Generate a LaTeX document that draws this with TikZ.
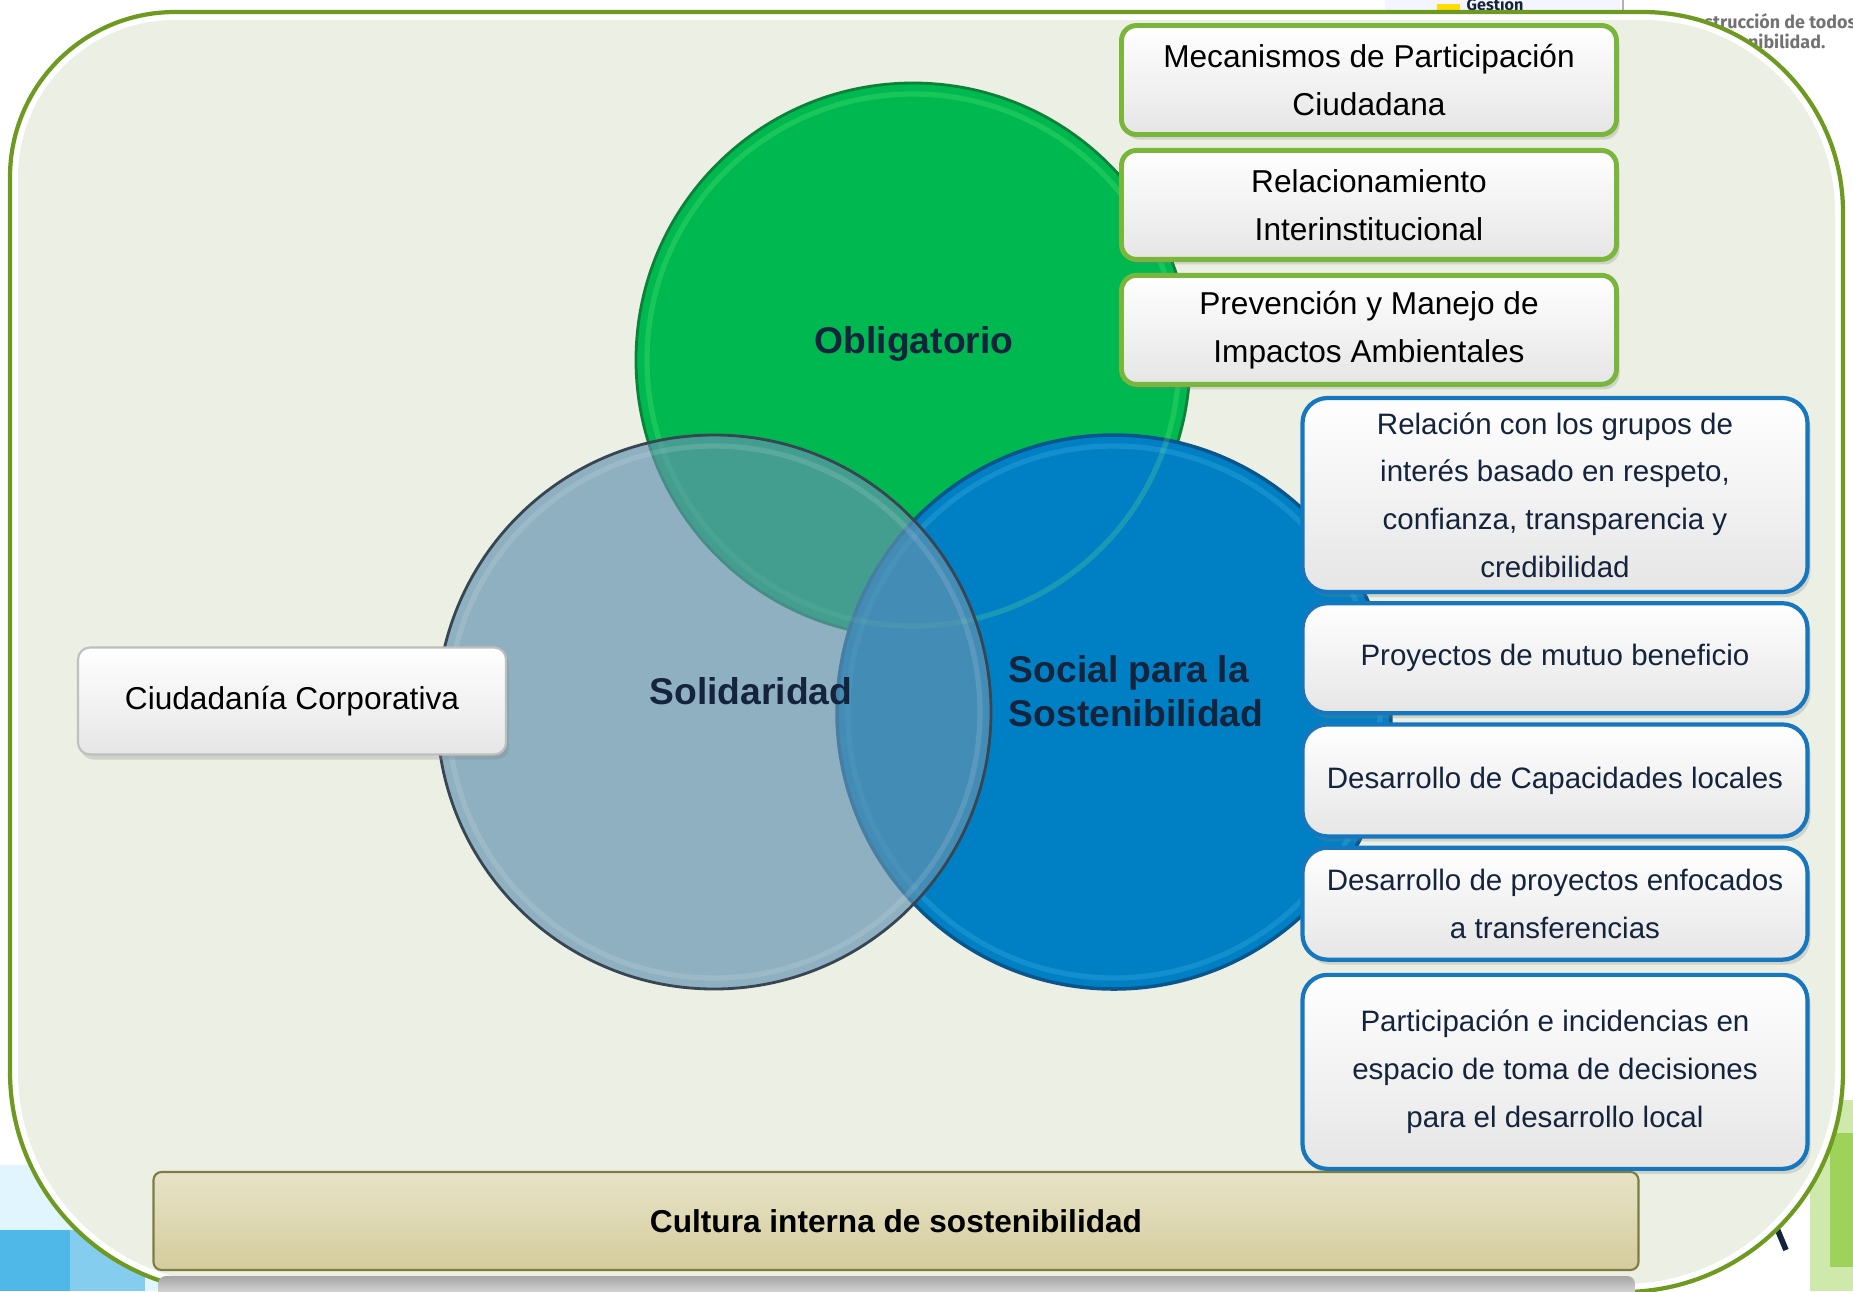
\documentclass[tikz,border=0pt]{standalone}
\usepackage{fontspec}
\setmainfont{Liberation Sans}
\newfontfamily\slidefont{Fira Sans}
\usepackage{xcolor}
\definecolor{framegreen}{RGB}{110,154,34}
\definecolor{paper}{RGB}{236,239,228}
\definecolor{venngreen}{RGB}{0,184,80}
\definecolor{venngreenedge}{RGB}{10,130,55}
\definecolor{vennblue}{RGB}{0,128,196}
\definecolor{vennblueedge}{RGB}{10,85,140}
\definecolor{venngrey}{RGB}{99,147,175}
\definecolor{venngreyedge}{RGB}{55,70,82}
\definecolor{boxgreen}{RGB}{122,182,60}
\definecolor{boxblue}{RGB}{22,118,190}
\definecolor{navy}{RGB}{21,36,61}
\definecolor{khaki}{RGB}{212,204,156}
\definecolor{khakiedge}{RGB}{125,125,65}
\definecolor{skyside}{RGB}{79,184,232}
\definecolor{limeside}{RGB}{158,210,90}
\usetikzlibrary{positioning,shadows}
\tikzset{
  venn_circ/.style={circle,minimum size=55.4mm,inner sep=0pt},
  venn_lbl/.style={font=\fontsize{10.6}{12.5}\selectfont\bfseries,text=navy,align=center,inner sep=0pt},
  box_base/.style={rectangle,align=center,inner sep=0pt,top color=white,bottom color=black!10,
    drop shadow={shadow xshift=0.3mm,shadow yshift=-0.5mm,opacity=0.25}},
  box_green/.style={box_base,draw=boxgreen,line width=1.4pt,rounded corners=1.5mm,
    minimum width=49.5mm,minimum height=10.9mm,font=\fontsize{9}{13.6}\selectfont},
  box_blue/.style={box_base,draw=boxblue,line width=1.2pt,rounded corners=2.5mm,
    minimum width=50.5mm,text=navy,font=\fontsize{8.4}{13.6}\selectfont},
  box_plain/.style={box_base,draw=black!25,line width=0.6pt,rounded corners=1.2mm,
    minimum width=42.8mm,minimum height=10.7mm,font=\fontsize{9}{13.6}\selectfont},
  bar_base/.style={rectangle,rounded corners=0.8mm,draw=khakiedge,line width=0.6pt,
    top color=khaki!55!white,bottom color=khaki,minimum width=148.5mm,minimum height=9.8mm,
    font=\fontsize{9}{11}\selectfont\bfseries},
  slide_txt/.style={font=\slidefont\bfseries\fontsize{5.1}{6}\selectfont,inner sep=0pt,anchor=base east},
}

\begin{document}
\begin{tikzpicture}[x=0.1mm,y=-0.1mm]
  \useasboundingbox (0,0) rectangle (1853,1291);
  % bits of the slide behind the frame
  \fill[blue!4] (1385,0) rectangle (1620,13);
  \fill[yellow!80!orange] (1437,4) rectangle (1460,11);
  \draw[black!30] (1623,0) -- (1623,13);
  \node[slide_txt,anchor=base west,font=\slidefont\bfseries\fontsize{4.6}{5.5}\selectfont,text=navy] (gest) at (1466,10) {Gestión};
  \node[slide_txt,text=black!55] (sl1) at (1857,28) {strucción de todos};
  \node[slide_txt,text=black!55] (sl2) at (1826,48) {nibilidad.};
  \fill[cyan!12] (0,1165) rectangle (165,1291);
  \fill[skyside] (0,1230) rectangle (70,1291);
  \fill[skyside!70] (70,1230) rectangle (145,1291);
  \fill[limeside!50] (1810,1100) rectangle (1853,1291);
  \fill[limeside] (1830,1133) rectangle (1853,1267);
  \draw[navy,line width=1.6pt] (1776,1226) -- (1786,1250);

  % frame
  \draw[framegreen,line width=1.2pt,fill=white] (10,700) [rounded corners=16.5mm] |- (900,12)
    [rounded corners=20mm] -| (1843,700) [rounded corners=22mm] |- (900,1292) -| (10,700) -- cycle;
  \fill[paper] (18,700) [rounded corners=15.7mm] |- (900,20)
    [rounded corners=19.2mm] -| (1835,700) [rounded corners=21.2mm] |- (900,1284) -| (18,700) -- cycle;

  % venn
  \node[venn_circ,fill=venngreen,draw=venngreenedge,line width=0.8pt] (c_obl) at (913,360) {};
  \node[venn_circ,fill=vennblue,draw=vennblueedge,line width=1pt] (c_soc) at (1114,712) {};
  \draw[green!50!white,opacity=0.2,line width=1.5pt] (c_obl.center) circle (266);
  \draw[cyan!60!white,opacity=0.2,line width=1.5pt] (c_soc.center) circle (266);
  \node[venn_circ,fill=venngrey,fill opacity=0.68,draw=venngreyedge,line width=0.8pt] (c_sol) at (714,712) {};
  \draw[white,opacity=0.12,line width=1.5pt] (c_sol.center) circle (266);

  \node[venn_lbl] (l_obl) at (914,344) {Obligatorio};
  \node[venn_lbl] (l_sol) at (751,691) {Solidaridad};
  \node[venn_lbl,align=left,anchor=west] (l_soc) at (1008,691) {Social para la\\Sostenibilidad};

  % green boxes
  \node[box_green] (g_mec) at (1369,80) {Mecanismos de Participación\\Ciudadana};
  \node[box_green,below=1.1mm of g_mec] (g_rel) {Relacionamiento\\Interinstitucional};
  \node[box_green,below=1.1mm of g_rel] (g_pre) {Prevención y Manejo de\\Impactos Ambientales};

  % blue boxes
  \node[box_blue,minimum height=19.4mm] (b_rel) at (1555,495)
    {Relación con los grupos de\\interés basado en respeto,\\confianza, transparencia y\\credibilidad};
  \node[box_blue,minimum height=11mm,below=0.7mm of b_rel] (b_pro) {Proyectos de mutuo beneficio};
  \node[box_blue,minimum height=11.2mm,below=0.7mm of b_pro] (b_cap) {Desarrollo de Capacidades locales};
  \node[box_blue,minimum height=11.2mm,below=0.7mm of b_cap] (b_tra) {Desarrollo de proyectos enfocados\\a transferencias};
  \node[box_blue,minimum height=19.4mm,below=1.1mm of b_tra] (b_par)
    {Participación e incidencias en\\espacio de toma de decisiones\\para el desarrollo local};

  \node[box_plain] (ciud) at (292,701) {Ciudadanía Corporativa};

  % base bar + its reflection
  \shade[top color=black!35,bottom color=black!8,rounded corners=0.8mm] (158,1276) rectangle (1635,1300);
  \node[bar_base] (cult) at (896,1221) {Cultura interna de sostenibilidad};
\end{tikzpicture}
\end{document}
